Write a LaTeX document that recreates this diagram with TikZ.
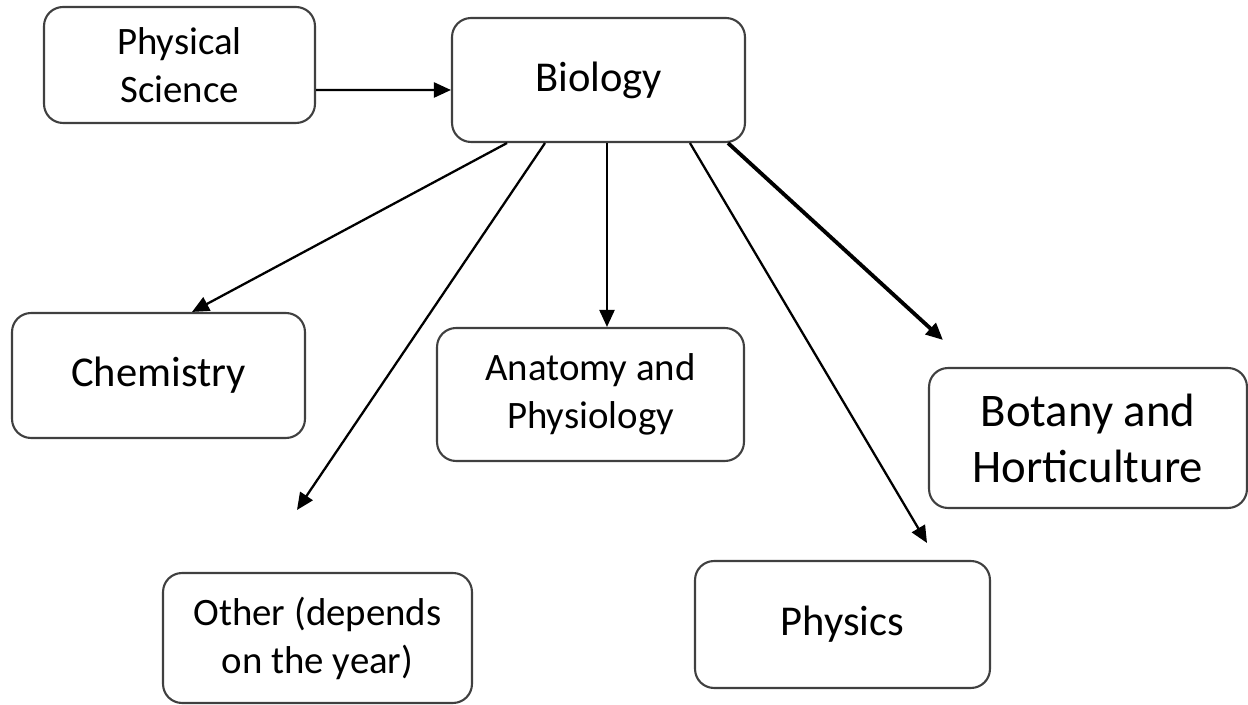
\documentclass[tikz,border=0pt]{standalone}
\usepackage{fontspec}
\setmainfont{Carlito}
\usetikzlibrary{arrows.meta}

\begin{document}
\begin{tikzpicture}[
		x=0.02cm, y=-0.02cm,
		every node/.style = {shape=rectangle, rounded corners=0.38cm,
			draw=black!75, line width=1.2pt, align=center, inner sep=0pt},
		topic/.style={font=\fontsize{24.2}{27.3}\selectfont},
		small/.style={font=\fontsize{22.1}{27.3}\selectfont},
		big/.style={font=\fontsize{26.6}{31.9}\selectfont},
		link/.style={-{Triangle[length=0.34cm,width=0.3cm]}, line width=1.3pt},
		heavy/.style={link, line width=2.2pt},
		]
		
		\useasboundingbox (0,0) rectangle (1248,705);
		
		\node[small, minimum width=5.42cm, minimum height=2.32cm] (ps) at (179.5,65) {Physical\\Science};
		\node[topic, minimum width=5.86cm, minimum height=2.48cm] (bio) at (598.5,80) {Biology};
		\node[topic, minimum width=5.86cm, minimum height=2.5cm] (chem) at (158.5,375.5) {Chemistry};
		\node[small, minimum width=6.14cm, minimum height=2.66cm] (ana) at (590.5,394.5) {Anatomy and\\Physiology};
		\node[big, minimum width=6.36cm, minimum height=2.8cm] (bot) at (1088,438) {Botany and\\Horticulture};
		\node[small, minimum width=6.18cm, minimum height=2.6cm] (oth) at (317.5,638) {Other (depends\\on the year)};
		\node[topic, minimum width=5.9cm, minimum height=2.54cm] (phy) at (842.5,624.5) {Physics};
		
		\coordinate (othtip) at (297,510);
		\coordinate (phytip) at (927,543);
		\coordinate (bottip) at (943,340);
		
		\draw[link] ([yshift=-0.5cm]ps.east) -- ([yshift=-0.2cm]bio.west);
		\draw[link] ([xshift=-1.83cm]bio.south) -- ([xshift=0.67cm]chem.north);
		\draw[link] ([xshift=-1.07cm]bio.south) -- (othtip);
		\draw[link] ([xshift=0.17cm]bio.south) -- ([xshift=0.17cm]bio.south |- ana.north);
		\draw[link] ([xshift=1.83cm]bio.south) -- (phytip);
		\draw[heavy] ([xshift=-0.36cm]bio.south east) -- (bottip);
		\end{tikzpicture}
\end{document}
